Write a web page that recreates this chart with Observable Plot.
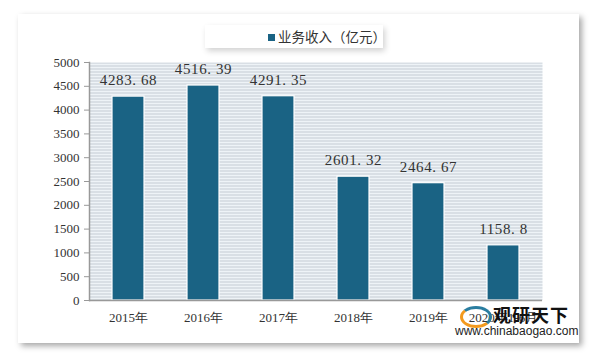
<!DOCTYPE html>
<html><head><meta charset="utf-8">
<script src="https://cdn.jsdelivr.net/npm/d3@7"></script>
<script src="https://cdn.jsdelivr.net/npm/@observablehq/plot@0.6"></script>
<style>
body{margin:0;background:#fff;width:593px;height:354px;overflow:hidden;position:relative;font-family:"Liberation Serif","DejaVu Serif",serif;}
#card{position:absolute;left:18px;top:14px;width:561px;height:329px;background:#fff;box-shadow:3px 3px 6px rgba(0,0,0,0.35);}
#chart{position:absolute;left:0;top:0;}
#legend{position:absolute;left:205px;top:25px;width:178px;height:23px;background:#fff;box-shadow:2px 3px 6px rgba(0,0,0,0.18);font-family:"Noto Sans CJK SC",sans-serif;font-size:13.5px;color:#333;line-height:23px;white-space:nowrap;}
#legend .sw{position:absolute;left:63px;top:9px;width:7px;height:7px;background:#1a6384;}
#legend .tx{position:absolute;left:73px;top:0;}
#wm{position:absolute;left:455px;top:300px;width:130px;height:40px;font-family:"Noto Sans CJK SC",sans-serif;}
#wm .logo{position:absolute;left:5px;top:6px;width:26px;height:16px;border-radius:50%;border:3px solid #2a7da0;border-bottom-color:#f39a1e;border-left-color:#f39a1e;}
#wm .cn{position:absolute;left:38px;top:1px;font-size:18px;font-weight:bold;color:#111;letter-spacing:1px;}
#wm .url{position:absolute;left:0;top:24px;font-family:"Liberation Sans",Arial,sans-serif;font-size:12px;color:#222;}
.vlab text{letter-spacing:0.6px;}
</style></head>
<body>
<div id="card"></div>
<div id="chart"></div>
<div id="legend"><span class="sw"></span><span class="tx">业务收入（亿元）</span></div>
<div id="wm"><div class="logo"></div><div class="cn">观研天下</div><div class="url">www.chinabaogao.com</div></div>
<script>
const categories = ["2015年","2016年","2017年","2018年","2019年","2020年1-6月"];
const values = [4283.68, 4516.39, 4291.35, 2601.32, 2464.67, 1158.8];
const labels = ["4283.68","4516.39","4291.35","2601.32","2464.67","1158.8"];
const yTicks = [0,500,1000,1500,2000,2500,3000,3500,4000,4500,5000];

const data = categories.map((c,i)=>({cat:c, value:values[i], label:labels[i].replace(".", ". ")}));

const plot = Plot.plot({
  width: 593,
  height: 354,
  marginLeft: 89,
  marginRight: 51,
  marginTop: 62,
  marginBottom: 54,
  style: {background: "transparent", fontFamily: "'Liberation Serif','DejaVu Serif',serif", fontSize: "13px", color: "#333"},
  x: {domain: categories, paddingInner: 0.58, paddingOuter: 0.29, label: null},
  y: {domain: [0, 5000], label: null},
  marks: [
    Plot.frame({fill: "url(#stripes)", stroke: "none"}),
    Plot.barY(data, {x: "cat", y: "value", fill: "#1a6384", stroke: "#ffffff", strokeWidth: 1.2, style: {filter: "drop-shadow(1px 1px 2px rgba(0,0,0,0.35))"}}),
    Plot.text(data, {x: "cat", y: "value", text: "label", dy: -16, fontSize: 15, fill: "#333", className: "vlab"}),
    Plot.frame({anchor: "left", stroke: "#999", strokeWidth: 1.5}),
    Plot.ruleY([0], {stroke: "#999", strokeWidth: 1.5}),
    Plot.axisY({ticks: yTicks, tickFormat: d => String(d), tickSize: 5, tickPadding: 5, stroke: "#999", fontSize: 13}),
    Plot.axisX({tickSize: 0, tickPadding: 12, fontSize: 13})
  ]
});
// decorative stripe pattern for plot background
const ns = "http://www.w3.org/2000/svg";
const defs = document.createElementNS(ns, "defs");
defs.innerHTML = `<pattern id="stripes" patternUnits="userSpaceOnUse" width="10" height="3" y="62"><rect width="10" height="3" fill="#eef3f7"/><rect width="10" height="1" fill="#c3cbd3"/></pattern>`;
plot.insertBefore(defs, plot.firstChild);
document.getElementById("chart").appendChild(plot);
</script>
</body></html>
